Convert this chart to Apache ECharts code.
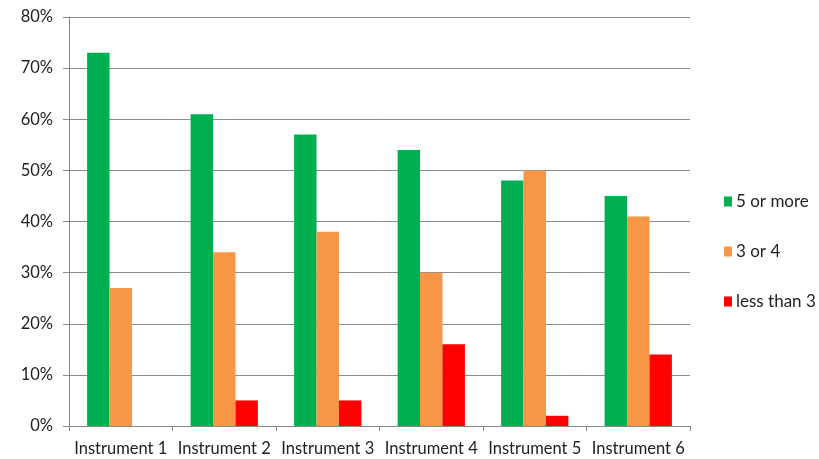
<!DOCTYPE html>
<html>
<head>
<meta charset="utf-8">
<script src="https://cdn.jsdelivr.net/npm/echarts@6/dist/echarts.min.js"></script>
<style>
  html, body { margin: 0; padding: 0; background: #fff; }
  #chart { width: 819px; height: 459px; }
</style>
</head>
<body>
<div id="chart"></div>
<script>
// Share of responses per instrument (percent)
const categories = ['Instrument 1', 'Instrument 2', 'Instrument 3', 'Instrument 4', 'Instrument 5', 'Instrument 6'];
const fiveOrMore = [73, 61, 57, 54, 48, 45];
const threeOrFour = [27, 34, 38, 30, 50, 41];
const lessThanThree = [0, 5, 5, 16, 2, 14];
const seriesNames = ['5 or more', '3 or 4', 'less than 3'];
const yTicks = { min: 0, max: 80, interval: 10 };

const fontFamily = 'Lato, "Open Sans", sans-serif';
const chart = echarts.init(document.getElementById('chart'));

chart.setOption({
  animation: false,
  textStyle: { fontFamily },
  grid: { left: 69, right: 129, top: 17, bottom: 33, containLabel: false },
  legend: {
    orient: 'vertical',
    left: 719,
    top: 188,
    itemWidth: 8,
    itemHeight: 10,
    itemGap: 33,
    icon: 'rect',
    textStyle: { fontSize: 17, color: '#222', fontFamily, padding: [0, 0, 0, -1] },
    data: seriesNames
  },
  xAxis: {
    type: 'category',
    data: categories,
    axisLine: { lineStyle: { color: '#888', width: 1 } },
    axisTick: { show: true, length: 5, lineStyle: { color: '#888' } },
    axisLabel: { fontSize: 16.5, color: '#222', margin: 14, interval: 0 }
  },
  yAxis: {
    type: 'value',
    min: yTicks.min,
    max: yTicks.max,
    interval: yTicks.interval,
    axisLine: { show: true, lineStyle: { color: '#888', width: 1 } },
    axisTick: { show: true, length: 6, lineStyle: { color: '#888' } },
    axisLabel: { fontSize: 16.5, color: '#222', margin: 16, formatter: '{value}%' },
    splitLine: { lineStyle: { color: '#8c8c8c', width: 1 } }
  },
  series: [
    {
      name: seriesNames[0], type: 'bar', data: fiveOrMore,
      barGap: '0%', barCategoryGap: '35%',
      itemStyle: { color: '#00B050' }
    },
    {
      name: seriesNames[1], type: 'bar', data: threeOrFour,
      itemStyle: { color: '#F79646' }
    },
    {
      name: seriesNames[2], type: 'bar', data: lessThanThree,
      itemStyle: { color: '#FF0000' }
    }
  ]
});
</script>
</body>
</html>
